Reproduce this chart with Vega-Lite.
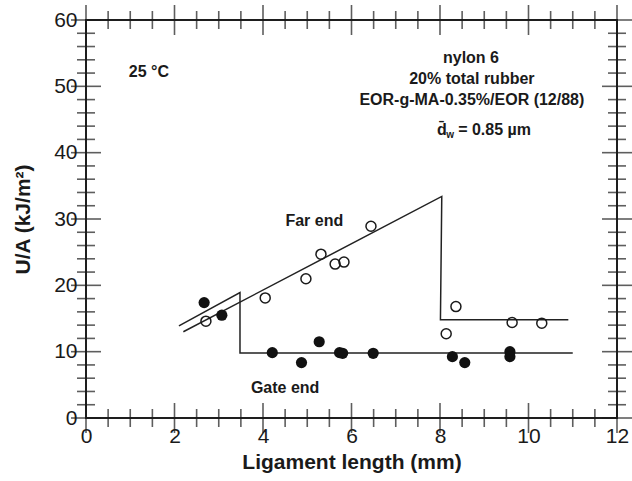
{
  "$schema": "https://vega.github.io/schema/vega-lite/v6.json",
  "width": 531,
  "height": 398,
  "autosize": "none",
  "padding": {"left": 86, "top": 20, "right": 15, "bottom": 63},
  "background": "white",
  "config": {
    "view": {"stroke": "#1e1e1e", "strokeWidth": 2},
    "font": "Liberation Sans",
    "axis": {"domain": false, "grid": false, "ticks": false}
  },
  "datasets": {
    "curves": [
      {"series": "Far end", "step": 1, "length": 2.2, "ua": 13.0},
      {"series": "Far end", "step": 2, "length": 8.04, "ua": 33.4},
      {"series": "Far end", "step": 3, "length": 8.01, "ua": 14.8},
      {"series": "Far end", "step": 4, "length": 10.9, "ua": 14.8},
      {"series": "Gate end", "step": 1, "length": 2.1, "ua": 13.9},
      {"series": "Gate end", "step": 2, "length": 3.48, "ua": 18.9},
      {"series": "Gate end", "step": 3, "length": 3.48, "ua": 9.8},
      {"series": "Gate end", "step": 4, "length": 11.0, "ua": 9.8}
    ],
    "far": [
      {"length": 2.71, "ua": 14.6},
      {"length": 4.05, "ua": 18.1},
      {"length": 4.97, "ua": 21.0},
      {"length": 5.31, "ua": 24.7},
      {"length": 5.63, "ua": 23.2},
      {"length": 5.83, "ua": 23.5},
      {"length": 6.44, "ua": 28.9},
      {"length": 8.14, "ua": 12.7},
      {"length": 8.36, "ua": 16.8},
      {"length": 9.63, "ua": 14.4},
      {"length": 10.3, "ua": 14.3}
    ],
    "gate": [
      {"length": 2.67, "ua": 17.4},
      {"length": 3.07, "ua": 15.5},
      {"length": 4.21, "ua": 9.85},
      {"length": 4.87, "ua": 8.35},
      {"length": 5.27, "ua": 11.5},
      {"length": 5.73, "ua": 9.85},
      {"length": 5.8, "ua": 9.75},
      {"length": 6.49, "ua": 9.75},
      {"length": 8.28, "ua": 9.25},
      {"length": 8.56, "ua": 8.35},
      {"length": 9.58, "ua": 10.0},
      {"length": 9.58, "ua": 9.25}
    ],
    "notes": [
      {"kind": "block", "text": "nylon 6", "length": 8.7, "ua": 54.3},
      {"kind": "block", "text": "20% total rubber", "length": 8.72, "ua": 51.1},
      {"kind": "block", "text": "EOR-g-MA-0.35%/EOR (12/88)", "length": 8.72, "ua": 47.9},
      {"kind": "label", "text": "25 °C", "length": 1.42, "ua": 52.2},
      {"kind": "label", "text": "Far end", "length": 5.16, "ua": 29.7},
      {"kind": "label", "text": "Gate end", "length": 4.5, "ua": 4.5},
      {"kind": "size", "text": "d̄", "length": 7.93, "ua": 43.42},
      {"kind": "size", "text": "= 0.85 µm", "length": 8.41, "ua": 43.42},
      {"kind": "sub", "text": "w", "length": 8.14, "ua": 42.6}
    ],
    "xticks": [
      {"length": 0, "major": true}, {"length": 0.5, "major": false}, {"length": 1, "major": false}, {"length": 1.5, "major": false},
      {"length": 2, "major": true}, {"length": 2.5, "major": false}, {"length": 3, "major": false}, {"length": 3.5, "major": false},
      {"length": 4, "major": true}, {"length": 4.5, "major": false}, {"length": 5, "major": false}, {"length": 5.5, "major": false},
      {"length": 6, "major": true}, {"length": 6.5, "major": false}, {"length": 7, "major": false}, {"length": 7.5, "major": false},
      {"length": 8, "major": true}, {"length": 8.5, "major": false}, {"length": 9, "major": false}, {"length": 9.5, "major": false},
      {"length": 10, "major": true}, {"length": 10.5, "major": false}, {"length": 11, "major": false}, {"length": 11.5, "major": false},
      {"length": 12, "major": true}
    ],
    "yticks": [
      {"ua": 0, "major": true}, {"ua": 2, "major": false}, {"ua": 4, "major": false}, {"ua": 6, "major": false}, {"ua": 8, "major": false},
      {"ua": 10, "major": true}, {"ua": 12, "major": false}, {"ua": 14, "major": false}, {"ua": 16, "major": false}, {"ua": 18, "major": false},
      {"ua": 20, "major": true}, {"ua": 22, "major": false}, {"ua": 24, "major": false}, {"ua": 26, "major": false}, {"ua": 28, "major": false},
      {"ua": 30, "major": true}, {"ua": 32, "major": false}, {"ua": 34, "major": false}, {"ua": 36, "major": false}, {"ua": 38, "major": false},
      {"ua": 40, "major": true}, {"ua": 42, "major": false}, {"ua": 44, "major": false}, {"ua": 46, "major": false}, {"ua": 48, "major": false},
      {"ua": 50, "major": true}, {"ua": 52, "major": false}, {"ua": 54, "major": false}, {"ua": 56, "major": false}, {"ua": 58, "major": false},
      {"ua": 60, "major": true}
    ]
  },
  "layer": [
    {
      "data": {"name": "curves"},
      "mark": {"type": "line", "color": "#222", "strokeWidth": 1.5},
      "encoding": {
        "x": {
          "field": "length", "type": "quantitative",
          "scale": {"domain": [0, 12], "nice": false, "zero": false},
          "axis": {
            "orient": "bottom",
            "values": [0, 2, 4, 6, 8, 10, 12],
            "format": "d",
            "title": "Ligament length (mm)",
            "labelPadding": 7, "labelFlush": false, "labelOverlap": false, "labelBound": false,
            "labelFont": "Liberation Sans", "labelFontSize": 21, "labelColor": "#1a1a1a",
            "titleFont": "Liberation Sans", "titleFontSize": 21, "titleFontWeight": "bold", "titleColor": "#1a1a1a",
            "titlePadding": 5
          }
        },
        "y": {
          "field": "ua", "type": "quantitative",
          "scale": {"domain": [0, 60], "nice": false, "zero": false},
          "axis": {
            "orient": "left",
            "values": [0, 10, 20, 30, 40, 50, 60],
            "format": "d",
            "title": "U/A (kJ/m²)",
            "labelPadding": 9, "labelOverlap": false, "labelBound": false, "labelFlush": false,
            "labelFont": "Liberation Sans", "labelFontSize": 21, "labelColor": "#1a1a1a",
            "titleFont": "Liberation Sans", "titleFontSize": 21, "titleFontWeight": "bold", "titleColor": "#1a1a1a",
            "titlePadding": 20
          }
        },
        "detail": {"field": "series"},
        "order": {"field": "step", "type": "quantitative"}
      }
    },
    {
      "data": {"name": "xticks"},
      "mark": {"type": "tick", "orient": "vertical", "color": "#1a1a1a", "thickness": 1.6, "clip": false},
      "encoding": {
        "x": {"field": "length", "type": "quantitative", "axis": null},
        "y": {"datum": 0, "type": "quantitative", "axis": null},
        "size": {"condition": {"test": "datum.major", "value": 30}, "value": 18}
      }
    },
    {
      "data": {"name": "xticks"},
      "mark": {"type": "tick", "orient": "vertical", "color": "#1a1a1a", "thickness": 1.6, "clip": false},
      "encoding": {
        "x": {"field": "length", "type": "quantitative", "axis": null},
        "y": {"datum": 60, "type": "quantitative", "axis": null},
        "size": {"condition": {"test": "datum.major", "value": 30}, "value": 18}
      }
    },
    {
      "data": {"name": "yticks"},
      "mark": {"type": "tick", "orient": "horizontal", "color": "#1a1a1a", "thickness": 1.6, "clip": false},
      "encoding": {
        "y": {"field": "ua", "type": "quantitative", "axis": null},
        "x": {"datum": 0, "type": "quantitative", "axis": null},
        "size": {"condition": {"test": "datum.major", "value": 30}, "value": 18}
      }
    },
    {
      "data": {"name": "yticks"},
      "mark": {"type": "tick", "orient": "horizontal", "color": "#1a1a1a", "thickness": 1.6, "clip": false},
      "encoding": {
        "y": {"field": "ua", "type": "quantitative", "axis": null},
        "x": {"datum": 12, "type": "quantitative", "axis": null},
        "size": {"condition": {"test": "datum.major", "value": 30}, "value": 18}
      }
    },
    {
      "data": {"name": "far"},
      "mark": {"type": "point", "shape": "circle", "filled": false, "color": "#1a1a1a", "strokeWidth": 1.5, "size": 100, "opacity": 1},
      "encoding": {
        "x": {"field": "length", "type": "quantitative", "axis": null},
        "y": {"field": "ua", "type": "quantitative", "axis": null}
      }
    },
    {
      "data": {"name": "gate"},
      "mark": {"type": "circle", "color": "#111", "size": 125, "opacity": 1},
      "encoding": {
        "x": {"field": "length", "type": "quantitative", "axis": null},
        "y": {"field": "ua", "type": "quantitative", "axis": null}
      }
    },
    {
      "data": {"name": "notes"},
      "transform": [{"filter": "datum.kind === 'block'"}],
      "mark": {"type": "text", "font": "Liberation Sans", "fontWeight": "bold", "fontSize": 16, "align": "center", "baseline": "middle", "color": "#1a1a1a"},
      "encoding": {
        "x": {"field": "length", "type": "quantitative", "axis": null},
        "y": {"field": "ua", "type": "quantitative", "axis": null},
        "text": {"field": "text"}
      }
    },
    {
      "data": {"name": "notes"},
      "transform": [{"filter": "datum.kind === 'label'"}],
      "mark": {"type": "text", "font": "Liberation Sans", "fontWeight": "bold", "fontSize": 16, "align": "center", "baseline": "middle", "color": "#1a1a1a"},
      "encoding": {
        "x": {"field": "length", "type": "quantitative", "axis": null},
        "y": {"field": "ua", "type": "quantitative", "axis": null},
        "text": {"field": "text"}
      }
    },
    {
      "data": {"name": "notes"},
      "transform": [{"filter": "datum.kind === 'size'"}],
      "mark": {"type": "text", "font": "Liberation Sans", "fontWeight": "bold", "fontSize": 16, "align": "left", "baseline": "middle", "color": "#1a1a1a"},
      "encoding": {
        "x": {"field": "length", "type": "quantitative", "axis": null},
        "y": {"field": "ua", "type": "quantitative", "axis": null},
        "text": {"field": "text"}
      }
    },
    {
      "data": {"name": "notes"},
      "transform": [{"filter": "datum.kind === 'sub'"}],
      "mark": {"type": "text", "font": "Liberation Sans", "fontWeight": "bold", "fontSize": 10, "align": "left", "baseline": "middle", "color": "#1a1a1a"},
      "encoding": {
        "x": {"field": "length", "type": "quantitative", "axis": null},
        "y": {"field": "ua", "type": "quantitative", "axis": null},
        "text": {"field": "text"}
      }
    }
  ],
  "resolve": {"axis": {"x": "independent", "y": "independent"}}
}
